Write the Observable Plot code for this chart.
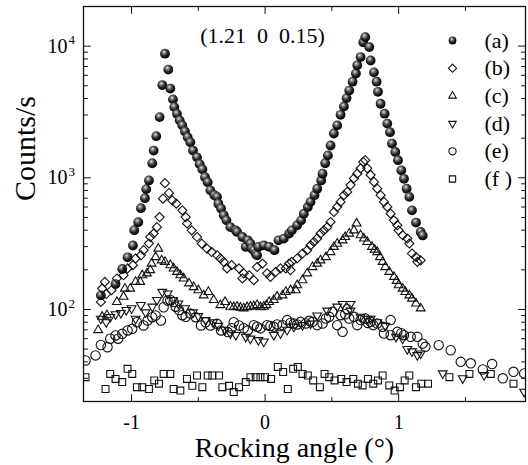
<!DOCTYPE html>
<html><head><meta charset="utf-8">
<script src="https://cdn.jsdelivr.net/npm/d3@7"></script>
<script src="https://cdn.jsdelivr.net/npm/@observablehq/plot@0.6"></script>
<style>body{margin:0;background:#fff}</style>
</head><body><div id="chart"></div>
<script>
// ---- data (rocking angle in degrees, counts/s) ----
const aX = [-1.23,-1.12,-1.07,-1.03,-0.99,-0.98,-0.95,-0.93,-0.90,-0.89,-0.87,-0.845,-0.835,-0.815,-0.79,-0.77,-0.75,-0.725,-0.71,-0.69,-0.68,-0.66,-0.64,-0.62,-0.60,-0.58,-0.56,-0.54,-0.51,-0.49,-0.47,-0.45,-0.43,-0.41,-0.38,-0.36,-0.35,-0.33,-0.31,-0.29,-0.26,-0.22,-0.21,-0.17,-0.145,-0.13,-0.11,-0.10,-0.085,-0.07,-0.06,-0.05,-0.01,0.03,0.07,0.10,0.14,0.18,0.20,0.24,0.27,0.29,0.32,0.34,0.37,0.39,0.42,0.43,0.45,0.47,0.49,0.515,0.54,0.565,0.59,0.61,0.63,0.655,0.68,0.69,0.715,0.735,0.75,0.78,0.79,0.815,0.835,0.845,0.865,0.895,0.915,0.935,0.95,0.975,0.995,1.02,1.04,1.06,1.08,1.10,1.13,1.165,1.18];
const aY = [128,156,203,249,306,400,460,587,700,820,955,1290,1610,2070,2890,5060,8760,6640,4760,3940,3440,3060,2730,2500,2250,2030,1860,1610,1430,1270,1160,1010,926,803,738,716,636,584,519,475,422,399,388,355,299,335,316,290,282,265,258,299,307,299,282,335,345,377,399,436,475,534,601,656,738,827,955,1075,1290,1480,1760,2170,2500,3010,3480,4030,4600,5370,6190,7150,8260,10700,11700,9840,7780,6320,5370,4500,3650,3070,2580,2220,1820,1570,1360,1140,983,827,716,566,457,388,365];

const bX = [-1.23,-1.22,-1.19,-1.20,-1.15,-1.11,-1.06,-1.03,-0.99,-0.97,-0.93,-0.91,-0.87,-0.86,-0.835,-0.81,-0.79,-0.765,-0.75,-0.72,-0.695,-0.665,-0.62,-0.595,-0.585,-0.55,-0.51,-0.475,-0.435,-0.40,-0.36,-0.335,-0.31,-0.285,-0.25,-0.195,-0.16,-0.17,-0.12,-0.085,-0.06,-0.02,0.015,0.04,0.08,0.115,0.155,0.19,0.18,0.20,0.24,0.28,0.315,0.34,0.365,0.39,0.415,0.44,0.465,0.49,0.515,0.54,0.565,0.59,0.615,0.64,0.665,0.69,0.715,0.735,0.75,0.765,0.79,0.815,0.84,0.865,0.89,0.915,0.94,0.965,0.99,1.00,1.03,1.065,1.08,1.10,1.13,1.165,1.14];
const bY = [114,144,131,162,140,172,182,205,217,244,258,282,317,355,377,422,503,694,911,767,674,636,566,503,450,399,355,316,290,273,258,244,230,205,217,205,188,172,182,167,210,223,188,177,193,205,205,199,223,230,244,266,282,307,326,346,377,399,422,462,550,601,656,738,781,880,990,1075,1180,1320,1360,1180,1050,930,827,738,656,601,534,475,436,399,366,346,317,266,250,236,230];

const cX = [-1.25,-1.22,-1.185,-1.11,-1.06,-1.05,-1.01,-0.97,-0.935,-0.92,-0.885,-0.86,-0.85,-0.82,-0.80,-0.775,-0.75,-0.71,-0.685,-0.66,-0.635,-0.61,-0.57,-0.535,-0.50,-0.46,-0.425,-0.385,-0.335,-0.30,-0.26,-0.235,-0.21,-0.185,-0.16,-0.135,-0.11,-0.085,-0.06,-0.035,-0.01,0.01,0.03,0.065,0.09,0.13,0.155,0.19,0.23,0.24,0.28,0.315,0.355,0.39,0.415,0.455,0.49,0.515,0.54,0.58,0.60,0.63,0.665,0.685,0.715,0.74,0.765,0.80,0.82,0.84,0.86,0.88,0.90,0.93,0.965,0.985,1.00,1.03,1.05,1.08,1.10,1.13,1.165];
const cY = [69.7,88,90.5,114,125,144,144,162,162,182,188,199,223,250,290,236,230,217,205,193,182,172,158,148,140,128,136,118,108,114,105,104,105,103,102,104,105,106,108,104,105,108,114,118,125,128,136,140,140,153,167,188,210,223,236,250,273,299,316,335,355,377,399,450,366,346,326,299,285,273,250,230,210,193,177,165,153,144,136,128,121,111,102];

const dX = [-1.23,-1.19,-1.16,-1.12,-1.08,-1.04,-1.00,-0.97,-0.93,-0.895,-0.845,-0.81,-0.77,-0.73,-0.69,-0.65,-0.60,-0.54,-0.50,-0.445,-0.39,-0.35,-0.30,-0.26,-0.22,-0.145,-0.11,-0.05,-0.01,0.065,0.115,0.165,0.215,0.28,0.34,0.39,0.465,0.54,0.58,0.64,0.64,0.715,0.765,0.79,0.84,0.90,0.98,1.03,1.065,1.10,1.14,1.165,1.33,1.48,1.64,1.94];
const dY = [85,80,87.5,92,94,99,102,85,108,95,105,118,136,132,118,111,102,95,89,83,80,75,70,66,64,62,60,58.5,57,64,66,70,74,76,78,90,98,105,110,110,98,88,85,85,80,75,62,60,50,48,45,46.3,32.7,30,31.7,23.7];

const eX = [-1.345,-1.27,-1.23,-1.18,-1.16,-1.12,-1.10,-1.07,-1.03,-0.995,-0.96,-0.91,-0.88,-0.845,-0.82,-0.78,-0.76,-0.73,-0.71,-0.685,-0.67,-0.645,-0.62,-0.595,-0.56,-0.52,-0.48,-0.445,-0.41,-0.36,-0.33,-0.28,-0.25,-0.235,-0.195,-0.16,-0.13,-0.085,-0.06,-0.035,0.015,0.04,0.065,0.09,0.13,0.165,0.19,0.215,0.24,0.265,0.305,0.33,0.355,0.39,0.43,0.455,0.48,0.505,0.54,0.565,0.58,0.60,0.615,0.63,0.665,0.69,0.715,0.75,0.77,0.79,0.81,0.84,0.88,0.94,0.89,0.94,0.99,1.02,1.04,1.09,1.14,1.18,1.20,1.30,1.39,1.465,1.54,1.63,1.70,1.78,1.86,1.94];
const eY = [41,44.8,53.7,51.7,60,63.5,60,65.3,69.3,71.3,80,75.6,82.5,87.4,90,82.5,104,117,118,114,105,98.8,90.5,88,93,87.4,75.6,80,75.6,77.8,69.3,67.3,72,80,75.6,72,69.3,76,74,71.8,76,75,73.8,77,76,83,79,78.3,77,80.5,78.3,82,80.5,76,78.3,85.4,88,95.9,76,90.5,67.6,92,100.5,85.4,88,76,83,85.4,79,80.5,76,78.3,73.8,83,65.7,63.8,67.6,66,63.8,62,62,55,52,53.6,49,40,39,35,38.5,30,33.6,32.7];

const fX = [-1.345,-1.195,-1.16,-1.12,-1.07,-1.03,-0.995,-0.96,-0.92,-0.87,-0.83,-0.795,-0.76,-0.71,-0.685,-0.635,-0.585,-0.545,-0.51,-0.47,-0.43,-0.395,-0.345,-0.32,-0.27,-0.235,-0.195,-0.145,-0.11,-0.07,-0.035,0.00,0.045,0.095,0.135,0.17,0.21,0.245,0.28,0.32,0.36,0.41,0.445,0.48,0.52,0.57,0.61,0.66,0.695,0.73,0.77,0.81,0.845,0.88,0.93,0.97,1.01,1.045,1.08,1.13,1.17,1.22,1.38,1.53,1.69,1.86];
const fY = [30.6,24.9,32.4,29.7,28.1,35.4,32.4,25.7,25.7,24.9,28.9,27.3,32.4,32.4,24.9,24.2,29.7,26.3,31.5,25.7,31.5,31.5,31.5,25.7,26.3,23.6,25.7,28.1,30.6,30.6,30.6,30.6,29.7,36.6,33.5,24.9,35.4,36.6,32.4,31.5,28.9,25.7,32.4,30.6,28.9,29.7,28.1,29.7,27.3,26.5,29.7,27.3,28.9,31.5,26.5,24.2,25.7,28.9,31.5,25.7,27.3,27.3,30.6,32.4,32.4,27.3];

const seriesNames = ["(a)", "(b)", "(c)", "(d)", "(e)", "(f\u00a0)"];
const xMajor = [-1, 0, 1];
const xMinor = [-0.5, 0.5, 1.5];
const yMajor = [100, 1000, 10000];
const yExp = ["2", "3", "4"];
const yMinor = [30,40,50,60,70,80,90,200,300,400,500,600,700,800,900,2000,3000,4000,5000,6000,7000,8000,9000];
const annotation = "(1.21\u00a0\u00a00\u00a0\u00a00.15)";
const xLabel = "Rocking angle (\u00b0)";
const yLabel = "Counts/s";

// ---- build tables ----
const toRows = (xs, ys) => xs.map((x, i) => ({angle: x, counts: ys[i]}));
const seriesData = [toRows(aX, aY), toRows(bX, bY), toRows(cX, cY), toRows(dX, dY), toRows(eX, eY), toRows(fX, fY)];

const ink = "#111";
const styles = [
  {symbol: "circle", fill: "url(#sph)", stroke: "none", r: 4.9, lr: 3.9},
  {symbol: "diamond2", fill: "none", stroke: ink, strokeWidth: 1.1, r: 4.1, lr: 3.7},
  {symbol: "triangle2", fill: "none", stroke: ink, strokeWidth: 1.1, r: 4.2, lr: 3.6},
  {symbol: "triangle2", rotate: 180, fill: "none", stroke: ink, strokeWidth: 1.1, r: 4.2, lr: 3.6},
  {symbol: "circle", fill: "none", stroke: ink, strokeWidth: 1.1, r: 4.7, lr: 3.6},
  {symbol: "square2", fill: "none", stroke: ink, strokeWidth: 1.1, r: 4.4, lr: 4.0}
];

const tickShape = {draw(ctx, l) { ctx.moveTo(0, 0); ctx.lineTo(0, -l); }};

function gradientDefs() {
  const defs = d3.create("svg:defs");
  const g = defs.append("radialGradient").attr("id", "sph")
    .attr("cx", "0.42").attr("cy", "0.38").attr("r", "0.62").attr("fx", "0.4").attr("fy", "0.32");
  g.append("stop").attr("offset", "0").attr("stop-color", "#f2f2f2");
  g.append("stop").attr("offset", "0.22").attr("stop-color", "#8d8d8d");
  g.append("stop").attr("offset", "0.6").attr("stop-color", "#262626");
  g.append("stop").attr("offset", "1").attr("stop-color", "#000");
  return defs.node();
}

const marks = [gradientDefs];

// data
seriesData.forEach((rows, i) => {
  const s = styles[i];
  marks.push(Plot.dot(rows, {x: "angle", y: "counts", symbol: s.symbol, r: s.r, fill: s.fill, stroke: s.stroke,
    strokeWidth: s.strokeWidth, rotate: s.rotate || 0, clip: true}));
});

// legend
seriesNames.forEach((name, i) => {
  const s = styles[i];
  const dy = 34 + i * 27.7;
  marks.push(Plot.dot([name], {frameAnchor: "top-left", dx: 369, dy, symbol: s.symbol, r: s.lr, fill: s.fill,
    stroke: s.stroke, strokeWidth: s.strokeWidth, rotate: s.rotate || 0}));
  marks.push(Plot.text([name], {frameAnchor: "top-left", dx: 401, dy, text: d => d, textAnchor: "start",
    lineAnchor: "middle", fontSize: 22, fill: "black"}));
});

// annotation
marks.push(Plot.text([annotation], {frameAnchor: "top", dx: -42, dy: 29, text: d => d, fontSize: 22, lineAnchor: "middle", fill: "black"}));

// frame and inward ticks
marks.push(Plot.frame({stroke: ink, strokeWidth: 1.3}));
const tk = {stroke: ink, strokeWidth: 1, anchor: "start", shape: tickShape};
marks.push(Plot.vectorX(xMajor, {...tk, x: d => d, frameAnchor: "bottom", length: 7, rotate: 0}));
marks.push(Plot.vectorX(xMinor, {...tk, x: d => d, frameAnchor: "bottom", length: 4, rotate: 0}));
marks.push(Plot.vectorX(xMajor, {...tk, x: d => d, frameAnchor: "top", length: 7, rotate: 180}));
marks.push(Plot.vectorX(xMinor, {...tk, x: d => d, frameAnchor: "top", length: 4, rotate: 180}));
marks.push(Plot.vectorY(yMajor, {...tk, y: d => d, frameAnchor: "left", length: 7, rotate: 90}));
marks.push(Plot.vectorY(yMinor, {...tk, y: d => d, frameAnchor: "left", length: 4, rotate: 90}));
marks.push(Plot.vectorY(yMajor, {...tk, y: d => d, frameAnchor: "right", length: 7, rotate: -90}));
marks.push(Plot.vectorY(yMinor, {...tk, y: d => d, frameAnchor: "right", length: 4, rotate: -90}));

// tick labels
marks.push(Plot.text(xMajor, {x: d => d, frameAnchor: "bottom", dy: 21, text: d => d < 0 ? "-" + (-d) : String(d),
  fontSize: 20, lineAnchor: "middle", fill: "black"}));
marks.push(Plot.text(yMajor, {y: d => d, frameAnchor: "left", dx: -16, text: () => "10", textAnchor: "end",
  fontSize: 20, lineAnchor: "middle", fill: "black"}));
marks.push(Plot.text(yMajor, {y: d => d, frameAnchor: "left", dx: -15, dy: -6, text: (d, i) => yExp[i], textAnchor: "start",
  fontSize: 13, lineAnchor: "middle", fill: "black"}));

// axis labels
marks.push(Plot.text([yLabel], {frameAnchor: "left", dx: -58, dy: -3, rotate: -90, text: d => d, fontSize: 30, lineAnchor: "middle", fill: "black"}));
marks.push(Plot.text([xLabel], {frameAnchor: "bottom", dx: -10, dy: 47, text: d => d, fontSize: 28, lineAnchor: "middle", fill: "black"}));

const chart = Plot.plot({
  width: 528, height: 465,
  marginLeft: 83, marginRight: 3, marginTop: 6, marginBottom: 64,
  x: {domain: [-1.36, 1.95], axis: null},
  y: {type: "log", domain: [20, 20000], axis: null},
  style: {fontFamily: "'Liberation Serif', 'Times New Roman', serif", background: "white", color: "black"},
  marks
});
document.getElementById("chart").appendChild(chart);
</script>
</body></html>
